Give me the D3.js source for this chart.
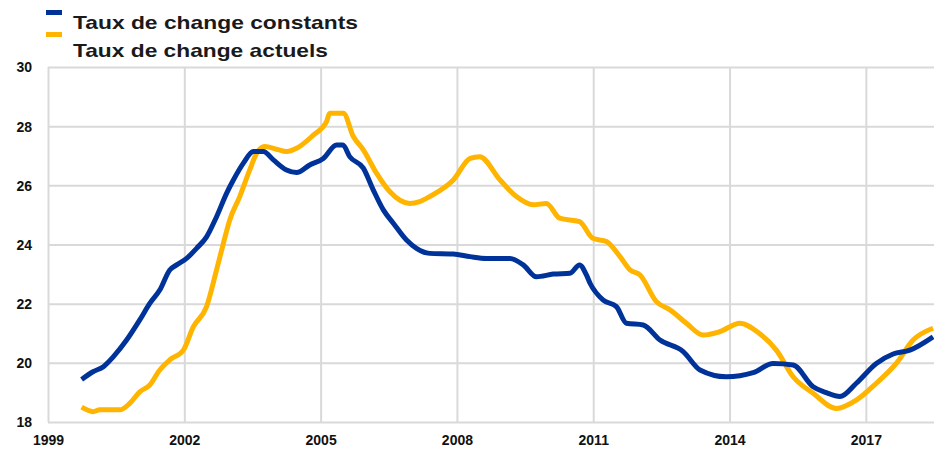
<!DOCTYPE html>
<html><head><meta charset="utf-8">
<script src="https://cdn.jsdelivr.net/npm/d3@7"></script>
<style>
html,body{margin:0;padding:0;background:#fff;}
svg{display:block;}
</style></head>
<body>
<svg id="chart" width="934" height="450"></svg>
<script>
const seriesNames = ["Taux de change constants", "Taux de change actuels"];
const seriesColors = ["#003399", "#ffb400"];
const xTicks = [1999, 2002, 2005, 2008, 2011, 2014, 2017];
const yTicks = [18, 20, 22, 24, 26, 28, 30];

const constYears = [1999.74,1999.99,2000.22,2000.44,2000.73,2001.02,2001.24,2001.46,2001.68,2001.83,2002.05,2002.27,2002.49,2002.71,2002.93,2003.08,2003.30,2003.52,2003.74,2003.96,2004.25,2004.47,2004.76,2005.06,2005.35,2005.49,2005.64,2005.94,2006.16,2006.38,2006.60,2006.89,2007.11,2007.40,2007.92,2008.29,2008.65,2009.17,2009.46,2009.75,2010.12,2010.49,2010.70,2010.85,2010.93,2011.22,2011.51,2011.73,2012.10,2012.47,2012.98,2013.35,2013.93,2014.52,2014.96,2015.40,2015.84,2016.13,2016.43,2016.79,2017.23,2017.60,2017.97,2018.48];
const constValues = [19.44,19.70,19.87,20.21,20.77,21.45,22.01,22.46,23.14,23.31,23.53,23.87,24.26,24.94,25.73,26.18,26.75,27.14,27.14,26.86,26.52,26.43,26.69,26.91,27.36,27.36,26.97,26.58,25.84,25.17,24.72,24.15,23.87,23.70,23.68,23.59,23.53,23.53,23.31,22.91,23.00,23.03,23.31,22.97,22.69,22.12,21.90,21.34,21.28,20.77,20.38,19.76,19.53,19.67,19.98,19.93,19.19,18.99,18.86,19.31,19.98,20.30,20.43,20.88];

const actYears = [1999.74,1999.99,2000.14,2000.58,2000.80,2001.02,2001.24,2001.46,2001.68,2001.98,2002.20,2002.49,2002.71,2002.86,2003.00,2003.22,2003.44,2003.59,2003.77,2004.03,2004.25,2004.47,2004.84,2005.13,2005.20,2005.50,2005.72,2005.94,2006.23,2006.52,2006.96,2007.18,2007.40,2007.92,2008.29,2008.50,2008.95,2009.31,2009.68,2009.97,2010.26,2010.70,2010.99,2011.29,2011.59,2011.81,2012.03,2012.39,2012.69,2013.05,2013.42,2013.78,2014.23,2014.65,2015.03,2015.40,2015.84,2016.35,2016.79,2017.23,2017.67,2018.04,2018.48];
const actValues = [18.50,18.35,18.41,18.41,18.63,19.02,19.25,19.76,20.10,20.43,21.22,21.90,23.14,24.04,24.83,25.62,26.52,27.08,27.31,27.22,27.14,27.25,27.70,28.15,28.44,28.44,27.65,27.20,26.41,25.79,25.39,25.45,25.62,26.18,26.91,26.97,26.18,25.62,25.34,25.39,24.89,24.77,24.21,24.10,23.59,23.14,22.97,22.07,21.79,21.34,20.94,21.05,21.34,21.00,20.43,19.53,18.97,18.46,18.74,19.31,19.98,20.77,21.17];

const svg = d3.select("#chart");
const x = d3.scaleLinear().domain([1999, 2018.5]).range([48, 934]);
const y = d3.scaleLinear().domain([18, 30]).range([422, 67]);

// horizontal gridlines + y labels
const yAxis = svg.append("g").attr("transform", "translate(48,0)")
  .call(d3.axisLeft(y).tickValues(yTicks).tickSize(-(934 - 48)).tickFormat(d3.format("d")));
yAxis.select(".domain").remove();
yAxis.selectAll(".tick line").attr("stroke", "#d9d9d9").attr("stroke-width", 2);
yAxis.selectAll(".tick text").attr("x", -16).attr("dy", "0.35em")
  .attr("font-family", "Liberation Sans, Arial, sans-serif").attr("font-size", 14)
  .attr("font-weight", "bold").attr("fill", "#111");

// vertical gridlines + x labels
const xAxis = svg.append("g").attr("transform", "translate(0,422)")
  .call(d3.axisBottom(x).tickValues(xTicks).tickSize(-(422 - 67)).tickFormat(d3.format("d")));
xAxis.select(".domain").remove();
xAxis.selectAll(".tick line").attr("stroke", "#d9d9d9").attr("stroke-width", 2);
xAxis.selectAll(".tick text").attr("y", 13).attr("dy", "0.71em")
  .attr("font-family", "Liberation Sans, Arial, sans-serif").attr("font-size", 14)
  .attr("font-weight", "bold").attr("fill", "#111");

const line = d3.line().x(d => x(d[0])).y(d => y(d[1])).curve(d3.curveMonotoneX);
const seriesData = [d3.zip(constYears, constValues), d3.zip(actYears, actValues)];

[1, 0].forEach(i => {
  svg.append("path").datum(seriesData[i])
    .attr("fill", "none").attr("stroke", seriesColors[i])
    .attr("stroke-width", 5).attr("stroke-linejoin", "round").attr("stroke-linecap", "butt")
    .attr("d", line);
});

// legend
const legend = svg.append("g");
const textLens = [285, 255];
seriesNames.forEach((name, i) => {
  legend.append("rect").attr("x", 46).attr("y", 10 + i * 22).attr("width", 16).attr("height", 5)
    .attr("fill", seriesColors[i]);
  legend.append("text").attr("x", 73).attr("y", 29 + i * 28)
    .attr("font-family", "Liberation Sans, Arial, sans-serif").attr("font-size", 19)
    .attr("font-weight", "bold").attr("fill", "#1a1a1a")
    .attr("textLength", textLens[i]).attr("lengthAdjust", "spacingAndGlyphs")
    .text(name);
});
</script>
</body></html>
